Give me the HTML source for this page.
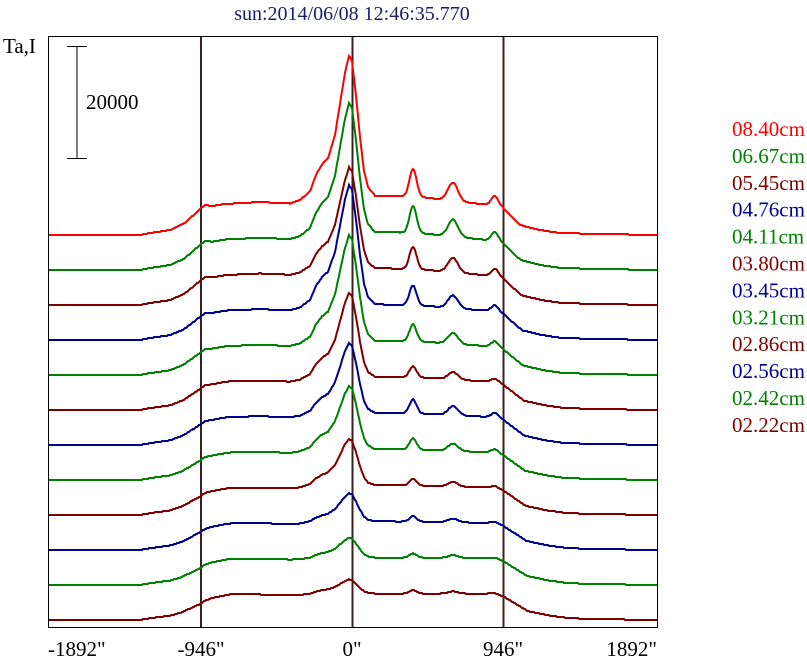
<!DOCTYPE html>
<html><head><meta charset="utf-8"><style>
body{margin:0;background:#fff}
svg{display:block;font-family:"Liberation Serif",serif}
</style></head><body>
<svg id="s" width="807" height="662" xmlns="http://www.w3.org/2000/svg">
<rect x="0" y="0" width="807" height="662" fill="#fff"/>
<text x="352" y="20" text-anchor="middle" font-size="20" fill="#1c1c6c">sun:2014/06/08 12:46:35.770</text>
<text x="3" y="53" font-size="21" fill="#000">Ta,I</text>
<rect x="48.5" y="36.5" width="609" height="591" fill="none" stroke="#000" stroke-width="1"/>
<line x1="77" y1="46" x2="77" y2="158" stroke="#000"/>
<line x1="67" y1="46.5" x2="87" y2="46.5" stroke="#000"/>
<line x1="67" y1="158.5" x2="87" y2="158.5" stroke="#000"/>
<text x="86" y="109" font-size="21">20000</text>
<g stroke="#3a2020" stroke-width="2">
<line x1="201" y1="37" x2="201" y2="627"/>
<line x1="352.5" y1="37" x2="352.5" y2="627"/>
<line x1="503.5" y1="37" x2="503.5" y2="627"/>
</g>
<g id="tr" fill="none" stroke-width="2"></g>
<g font-size="21">
<text x="48" y="656">-1892"</text>
<text x="201" y="656" text-anchor="middle">-946"</text>
<text x="352" y="656" text-anchor="middle">0"</text>
<text x="503" y="656" text-anchor="middle">946"</text>
<text x="657" y="656" text-anchor="end">1892"</text>
</g>
<g id="lg" font-size="21"></g>
</svg>
<script>
var cols=["#ff0000","#008000","#800000","#000090"];
var order=[0,1,2,3,1,2,3,1,2,3,1,2];
var labels=["08.40","06.67","05.45","04.76","04.11","03.80","03.45","03.21","02.86","02.56","02.42","02.22"];
var P=[1,0.92,0.72,0.85,0.75,0.6,0.5,0.45,0.33,0.2,0.14,0.1];
var A=[1,0.95,0.8,0.7,0.6,0.4,0.5,0.4,0.25,0.2,0.15,0.12];
function g(x,c,s){return Math.exp(-Math.pow((x-c)/s,2));}
function interp(pts,x){for(var i=1;i<pts.length;i++){if(x<=pts[i][0]){var a=pts[i-1],b=pts[i];return a[1]+(b[1]-a[1])*(x-a[0])/(b[0]-a[0]);}}return 0;}
var peak=[[48,0],[290,0],[300,4],[310,12],[316,28],[322,38],[328,44],[335,66],[340,96],[345,126],[349,142],[352,136],[356,100],[360,58],[364,24],[368,8],[375,0],[657,0]];
var tr=document.getElementById('tr'),lg=document.getElementById('lg');
for(var i=0;i<12;i++){
  var base=235+35*i, d=1-0.12*i/11, w=i/11;
  var disk=[[48,0],[140,0],[150,2],[170,5],[185-5*w,12-4*w],[200,26-8*w],[205,30-8*w],[212,29-4*w],[225+5*w,31-2*w],[260,33-4*w],[300,31-3*w],[330,33-3*w],[360,40-10*w],[420,38-8*w],[490,30],[503,27],[520+8*w,10],[540+10*w,5],[560+10*w,2],[600,1],[657,0]];
  var dd="";
  for(var x=49;x<=657;x++){
    var h=d*interp(disk,x)+P[i]*interp(peak,x)+A[i]*(28*g(x,413,5)+18*g(x,453,7)+10*g(x,495,5));
    var y=Math.round(base-h);
    dd+=(x==49?"M":"L")+x+" "+y;
  }
  var p=document.createElementNS("http://www.w3.org/2000/svg","path");
  p.setAttribute("d",dd);p.setAttribute("stroke",cols[order[i]]);tr.appendChild(p);
  var t=document.createElementNS("http://www.w3.org/2000/svg","text");
  t.setAttribute("x",732);t.setAttribute("y",136+26.9*i);t.setAttribute("fill",cols[order[i]]);
  t.textContent=labels[i]+"cm";lg.appendChild(t);
}
</script>
</body></html>
